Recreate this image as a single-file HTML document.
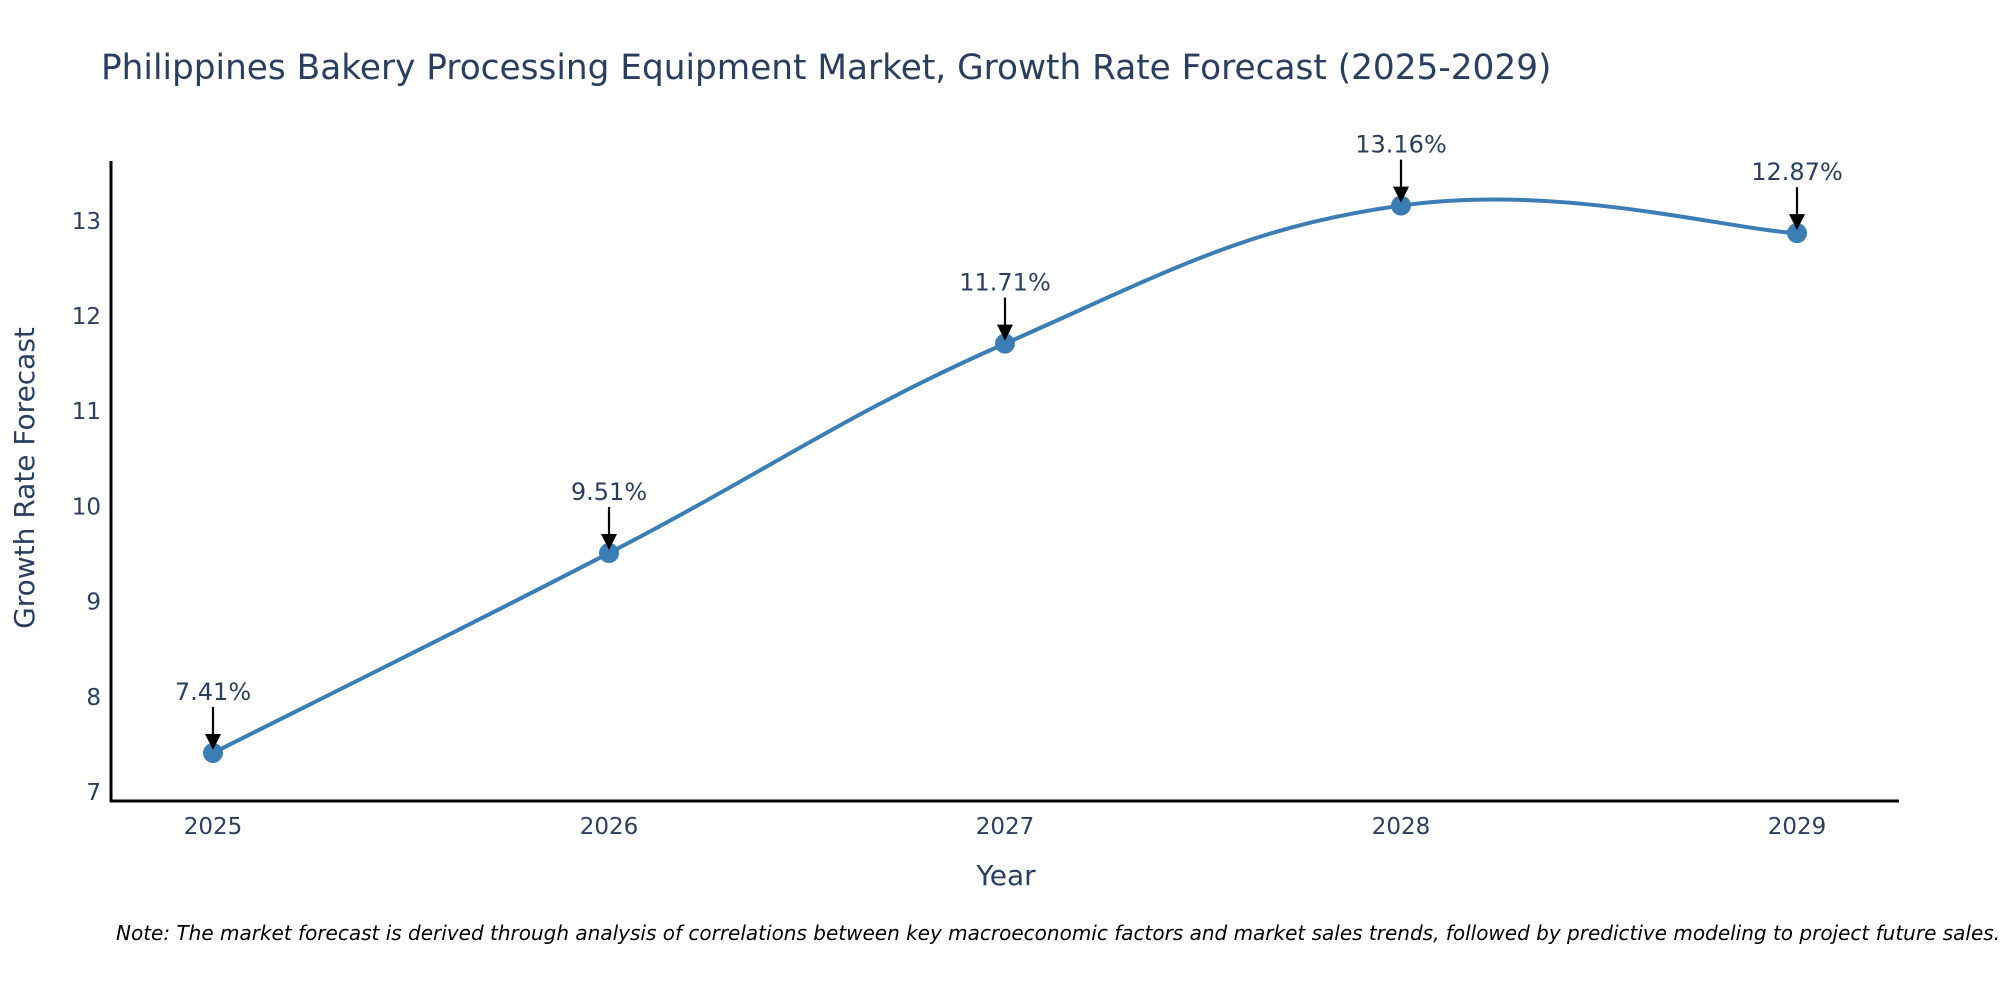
<!DOCTYPE html>
<html><head><meta charset="utf-8"><style>
html,body{margin:0;padding:0;background:#fff;}
svg{display:block;font-family:"DejaVu Sans","Liberation Sans",sans-serif;}
</style></head><body>
<svg id="chart" width="2000" height="1000" viewBox="0 0 2000 1000">
<text x="101" y="79" font-size="34.3" fill="#2a3f5f">Philippines Bakery Processing Equipment Market, Growth Rate Forecast (2025-2029)</text>
<g id="yticks"></g>
<g id="xticks"></g>
<line x1="111" y1="161" x2="111" y2="802" stroke="#000" stroke-width="3"/>
<line x1="110" y1="801" x2="1899" y2="801" stroke="#000" stroke-width="3"/>
<path id="line" fill="none" stroke="#3b7db5" stroke-width="4"/>
<g id="points"></g>
<g id="annots"></g>
<text x="34" y="478" font-size="28" fill="#2a3f5f" text-anchor="middle" transform="rotate(-90 34 478)">Growth Rate Forecast</text>
<text x="1006" y="885" font-size="28" fill="#2a3f5f" text-anchor="middle">Year</text>
<text x="116" y="940" font-size="20" font-style="italic" fill="#000">Note: The market forecast is derived through analysis of correlations between key macroeconomic factors and market sales trends, followed by predictive modeling to project future sales.</text>
</svg>
<script>
const years = [2025, 2026, 2027, 2028, 2029];
const values = [7.41, 9.51, 11.71, 13.16, 12.87];
const labels = ["7.41%", "9.51%", "11.71%", "13.16%", "12.87%"];
const yTicks = [7, 8, 9, 10, 11, 12, 13];

const NS = "http://www.w3.org/2000/svg";
function xs(y){ return 213 + (y - 2025) * 396; }
function ys(v){ return 792 - (v - 7) * 95.2; }
function mk(tag, attrs, parent){
  const e = document.createElementNS(NS, tag);
  for (const k in attrs) e.setAttribute(k, attrs[k]);
  parent.appendChild(e); return e;
}
const yt = document.getElementById('yticks');
yTicks.forEach(t => {
  const e = mk('text', {x: 101, y: ys(t) + 8, 'font-size': 23, fill: '#2a3f5f', 'text-anchor': 'end'}, yt);
  
  
  e.textContent = t;
});
const xt = document.getElementById('xticks');
years.forEach(y => {
  const e = mk('text', {x: xs(y), y: 834, 'font-size': 23, fill: '#2a3f5f', 'text-anchor': 'middle'}, xt);
  
  
  e.textContent = y;
});
const P = years.map((y, i) => [xs(y), ys(values[i])]);
let d = 'M' + P[0][0] + ',' + P[0][1];
const s = 0.2;
for (let i = 0; i < P.length - 1; i++) {
  const p0 = P[i - 1] || P[i], p1 = P[i], p2 = P[i + 1], p3 = P[i + 2] || P[i + 1];
  const c1 = [p1[0] + (p2[0] - p0[0]) * s, p1[1] + (p2[1] - p0[1]) * s];
  const c2 = [p2[0] - (p3[0] - p1[0]) * s, p2[1] - (p3[1] - p1[1]) * s];
  d += ' C' + c1.join(',') + ' ' + c2.join(',') + ' ' + p2.join(',');
}
document.getElementById('line').setAttribute('d', d);
const pts = document.getElementById('points');
const an = document.getElementById('annots');
P.forEach((p, i) => {
  const c = mk('circle', {cx: p[0], cy: p[1], r: 10, fill: '#3b7db5'}, pts);
  
  
  const l = mk('line', {x1: p[0], y1: p[1] - 46, x2: p[0], y2: p[1] - 14, stroke: '#000', 'stroke-width': 2.2}, an);
  
  
  const h = mk('polygon', {points: (p[0]-8)+','+(p[1]-19)+' '+(p[0]+8)+','+(p[1]-19)+' '+p[0]+','+(p[1]-3), fill: '#000'}, an);
  
  
  const t = mk('text', {x: p[0], y: p[1] - 53, 'font-size': 24, fill: '#2a3f5f', 'text-anchor': 'middle'}, an);
  
  
  t.textContent = labels[i];
});
</script>
</body></html>
